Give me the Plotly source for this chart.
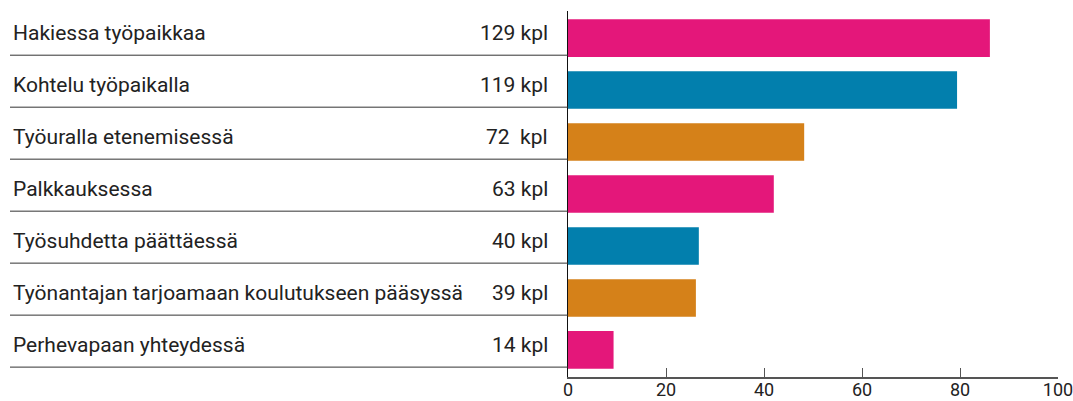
import plotly.graph_objects as go

categories = [
    "Hakiessa työpaikkaa",
    "Kohtelu työpaikalla",
    "Työuralla etenemisessä",
    "Palkkauksessa",
    "Työsuhdetta päättäessä",
    "Työnantajan tarjoamaan koulutukseen pääsyssä",
    "Perhevapaan yhteydessä",
]
count_labels = ["129 kpl", "119 kpl", "72  kpl", "63 kpl", "40 kpl", "39 kpl", "14 kpl"]
values = [86.1, 79.4, 48.2, 42.0, 26.7, 26.1, 9.3]
bar_colors = ["#E4177A", "#027FAD", "#D58119", "#E4177A", "#027FAD", "#D58119", "#E4177A"]
x_ticks = [0, 20, 40, 60, 80, 100]

FONT = "Roboto"
W, H = 1073, 401
ML, MR, MT, MB = 568, 15, 11, 24
pw = W - ML - MR

def px_to_paper(px):
    return (px - ML) / pw

fig = go.Figure()
fig.add_trace(go.Bar(
    y=list(range(len(categories))), x=values, orientation="h",
    marker=dict(color=bar_colors, line=dict(width=0)),
    width=0.725, hoverinfo="skip",
))

annotations = []
shapes = []
for i, (cat, cl) in enumerate(zip(categories, count_labels)):
    annotations.append(dict(
        x=px_to_paper(11), xref="paper", y=i, yref="y", text=cat,
        showarrow=False, xanchor="left", yanchor="middle", yshift=5,
        font=dict(family=FONT, size=21, color="#222222")))
    annotations.append(dict(
        x=px_to_paper(550), xref="paper", y=i, yref="y", text=cl,
        showarrow=False, xanchor="right", yanchor="middle", yshift=5,
        font=dict(family=FONT, size=21, color="#222222")))
    shapes.append(dict(
        type="line", xref="paper", yref="y",
        x0=px_to_paper(10), x1=0, y0=i + 0.33, y1=i + 0.33,
        line=dict(color="#333333", width=1)))

fig.update_layout(
    width=W, height=H,
    margin=dict(l=ML, r=MR, t=MT, b=MB, autoexpand=False),
    plot_bgcolor="white", paper_bgcolor="white",
    showlegend=False,
    annotations=annotations, shapes=shapes,
    xaxis=dict(
        range=[0, 100], tickvals=x_ticks, ticktext=[str(t) for t in x_ticks],
        showgrid=False, zeroline=False, showline=True, linecolor="#555555", linewidth=1.5,
        ticks="inside", ticklen=9, tickcolor="#555555", tickwidth=1,
        tickfont=dict(family=FONT, size=18, color="#222222"), automargin=False,
        ticklabeloverflow="allow", ticklabelstandoff=-4,
    ),
    yaxis=dict(
        range=[6.52, -0.52], showticklabels=False, showgrid=False, zeroline=False,
        showline=True, linecolor="#111111", linewidth=1, ticks="", automargin=False,
    ),
    font=dict(family=FONT),
)

fig.write_html(
    "out.html",
    config={"displayModeBar": False},
    post_script="document.body.style.margin='0';document.body.style.overflow='hidden';",
)
